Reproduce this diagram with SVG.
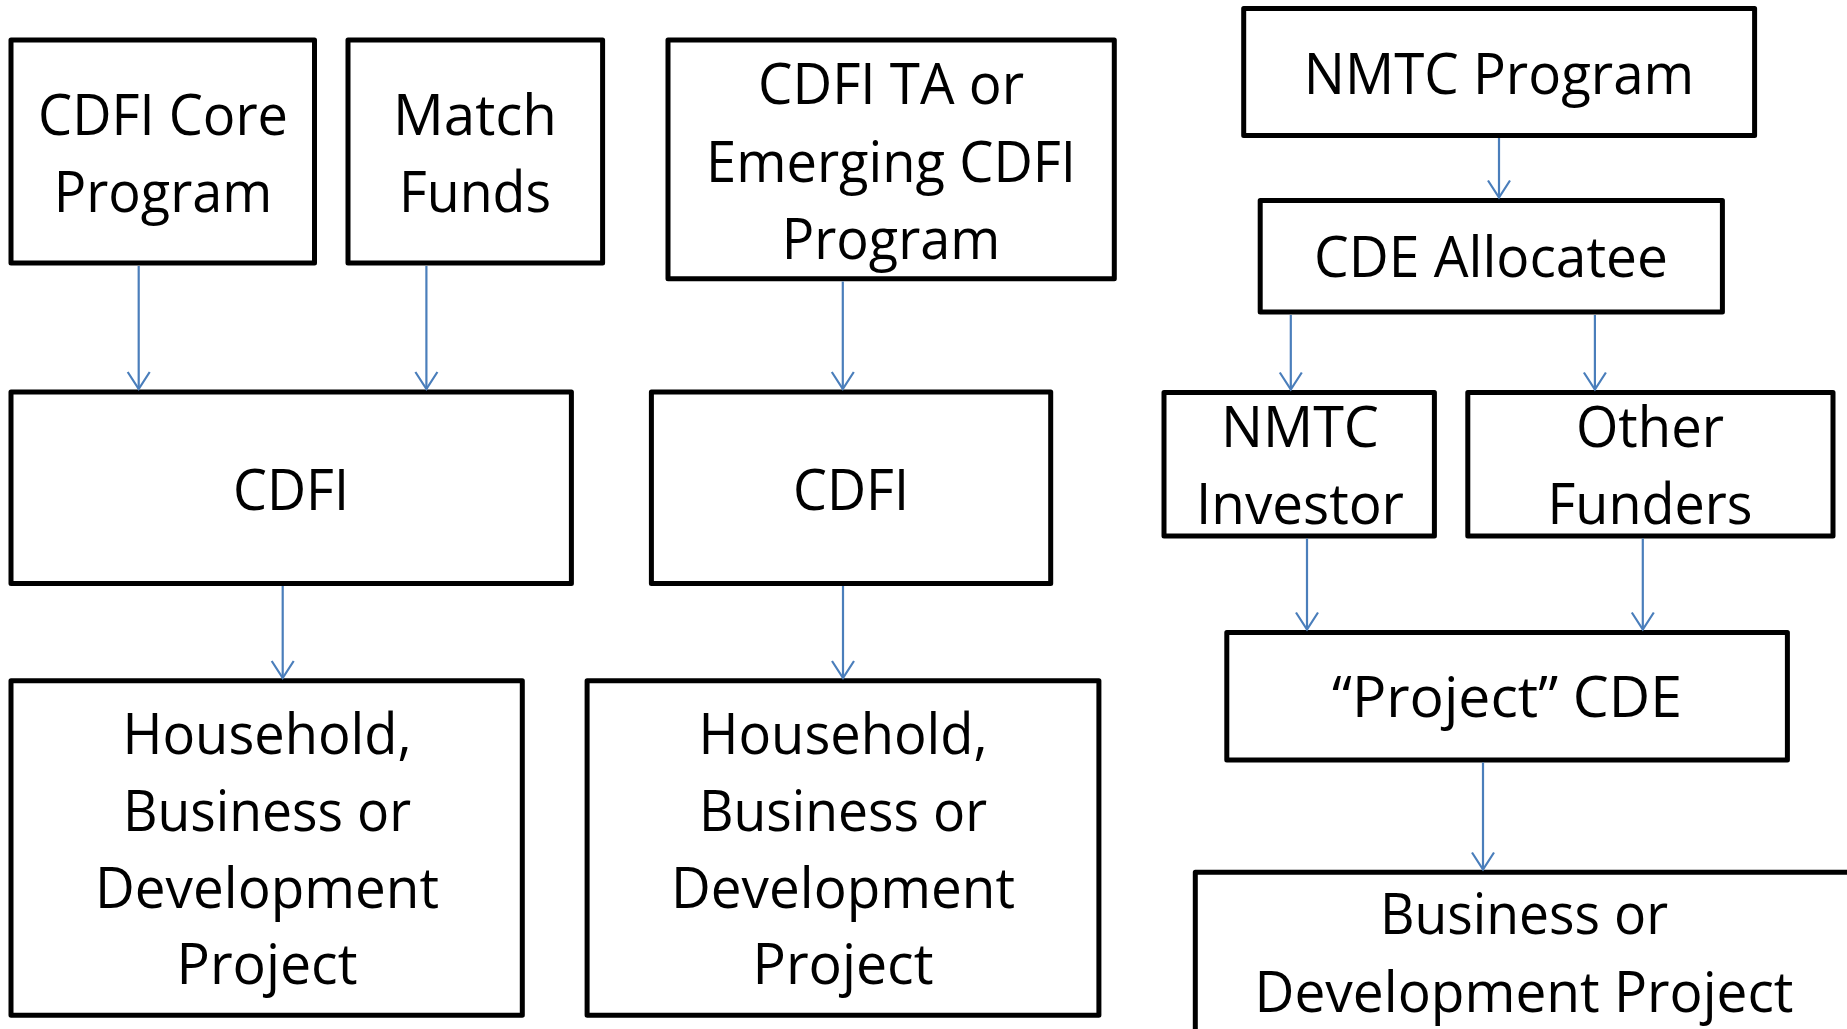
<svg xmlns="http://www.w3.org/2000/svg" width="1847" height="1029" viewBox="0 0 1847 1029">
  <style>
    .box { fill: #ffffff; stroke: #000000; stroke-width: 5; stroke-linejoin: round; }
    .lbl { font-family: "Open Sans", "Noto Sans", "Liberation Sans", sans-serif; font-size: 56px; fill: #000000; text-anchor: middle; }
    .flow { stroke: #4A7EBB; stroke-width: 2.2; fill: none; marker-end: url(#head); }
  </style>
  <defs>
    <marker id="head" markerUnits="userSpaceOnUse" viewBox="-20 -20 40 40" markerWidth="40" markerHeight="40" refX="0" refY="0" orient="auto" overflow="visible">
      <path d="M -17 -11 L 0 0 L -17 11" fill="none" stroke="#4A7EBB" stroke-width="2.2" stroke-linejoin="miter"/>
    </marker>
  </defs>
  <rect width="1847" height="1029" fill="#ffffff"/>

  <!-- CDFI Core / Match Funds column -->
  <g id="cdfi-core-program">
    <rect class="box" x="11" y="40" width="303.5" height="223"/>
    <text class="lbl" x="163" y="135" textLength="250" lengthAdjust="spacingAndGlyphs">CDFI Core</text>
    <text class="lbl" x="163" y="212" textLength="218.5" lengthAdjust="spacingAndGlyphs">Program</text>
  </g>
  <g id="match-funds">
    <rect class="box" x="348" y="40" width="254.6" height="223"/>
    <text class="lbl" x="475" y="135" textLength="164" lengthAdjust="spacingAndGlyphs">Match</text>
    <text class="lbl" x="475" y="212" textLength="152" lengthAdjust="spacingAndGlyphs">Funds</text>
  </g>
  <g id="cdfi-left">
    <rect class="box" x="11" y="392" width="560.4" height="191.5"/>
    <text class="lbl" x="291" y="509.5" textLength="116" lengthAdjust="spacingAndGlyphs">CDFI</text>
  </g>
  <g id="project-left">
    <rect class="box" x="11" y="680.8" width="511.3" height="334.5"/>
    <text class="lbl" x="267" y="754" textLength="289" lengthAdjust="spacingAndGlyphs">Household,</text>
    <text class="lbl" x="267" y="831" textLength="288" lengthAdjust="spacingAndGlyphs">Business or</text>
    <text class="lbl" x="267" y="907.5" textLength="344" lengthAdjust="spacingAndGlyphs">Development</text>
    <text class="lbl" x="267" y="984" textLength="181" lengthAdjust="spacingAndGlyphs">Project</text>
  </g>

  <!-- CDFI TA column -->
  <g id="cdfi-ta-program">
    <rect class="box" x="668" y="40" width="446.3" height="238.7"/>
    <text class="lbl" x="891" y="104" textLength="266" lengthAdjust="spacingAndGlyphs">CDFI TA or</text>
    <text class="lbl" x="891" y="181.5" textLength="370" lengthAdjust="spacingAndGlyphs">Emerging CDFI</text>
    <text class="lbl" x="891" y="258.5" textLength="218.5" lengthAdjust="spacingAndGlyphs">Program</text>
  </g>
  <g id="cdfi-mid">
    <rect class="box" x="651.4" y="392" width="399.3" height="191.5"/>
    <text class="lbl" x="851" y="509.5" textLength="116" lengthAdjust="spacingAndGlyphs">CDFI</text>
  </g>
  <g id="project-mid">
    <rect class="box" x="587.1" y="680.8" width="511.8" height="334.5"/>
    <text class="lbl" x="843" y="754" textLength="289" lengthAdjust="spacingAndGlyphs">Household,</text>
    <text class="lbl" x="843" y="831" textLength="288" lengthAdjust="spacingAndGlyphs">Business or</text>
    <text class="lbl" x="843" y="907.5" textLength="344" lengthAdjust="spacingAndGlyphs">Development</text>
    <text class="lbl" x="843" y="984" textLength="181" lengthAdjust="spacingAndGlyphs">Project</text>
  </g>

  <!-- NMTC column -->
  <g id="nmtc-program">
    <rect class="box" x="1243.7" y="8.6" width="510.9" height="126.8"/>
    <text class="lbl" x="1499" y="93.6" textLength="390.5" lengthAdjust="spacingAndGlyphs">NMTC Program</text>
  </g>
  <g id="cde-allocatee">
    <rect class="box" x="1260.2" y="200.4" width="462.2" height="111.7"/>
    <text class="lbl" x="1491" y="277" textLength="354" lengthAdjust="spacingAndGlyphs">CDE Allocatee</text>
  </g>
  <g id="nmtc-investor">
    <rect class="box" x="1164" y="392.5" width="270.4" height="143.5"/>
    <text class="lbl" x="1300" y="447" textLength="158" lengthAdjust="spacingAndGlyphs">NMTC</text>
    <text class="lbl" x="1300" y="523.5" textLength="208" lengthAdjust="spacingAndGlyphs">Investor</text>
  </g>
  <g id="other-funders">
    <rect class="box" x="1467.8" y="392.5" width="365.2" height="143.5"/>
    <text class="lbl" x="1650" y="447" textLength="148" lengthAdjust="spacingAndGlyphs">Other</text>
    <text class="lbl" x="1650" y="523.5" textLength="205" lengthAdjust="spacingAndGlyphs">Funders</text>
  </g>
  <g id="project-cde">
    <rect class="box" x="1226.8" y="632.5" width="560.6" height="127.5"/>
    <text class="lbl" x="1507" y="716.7" textLength="350" lengthAdjust="spacingAndGlyphs">“Project” CDE</text>
  </g>
  <g id="business-project">
    <rect class="box" x="1195.3" y="872.3" width="680" height="260"/>
    <text class="lbl" x="1524" y="934" textLength="288" lengthAdjust="spacingAndGlyphs">Business or</text>
    <text class="lbl" x="1524" y="1011.7" textLength="539" lengthAdjust="spacingAndGlyphs">Development Project</text>
  </g>

  <!-- connectors -->
  <g id="connectors">
    <line class="flow" x1="138.7" y1="266" x2="138.7" y2="389"/>
    <line class="flow" x1="426.4" y1="266" x2="426.4" y2="389"/>
    <line class="flow" x1="842.8" y1="281.5" x2="842.8" y2="389"/>
    <line class="flow" x1="282.7" y1="586" x2="282.7" y2="678"/>
    <line class="flow" x1="843" y1="586" x2="843" y2="678"/>
    <line class="flow" x1="1499" y1="138" x2="1499" y2="197.5"/>
    <line class="flow" x1="1290.8" y1="315" x2="1290.8" y2="389.5"/>
    <line class="flow" x1="1594.9" y1="315" x2="1594.9" y2="389.5"/>
    <line class="flow" x1="1307" y1="538.5" x2="1307" y2="629.5"/>
    <line class="flow" x1="1642.8" y1="538.5" x2="1642.8" y2="629.5"/>
    <line class="flow" x1="1483" y1="762.5" x2="1483" y2="869.5"/>
  </g>
</svg>
